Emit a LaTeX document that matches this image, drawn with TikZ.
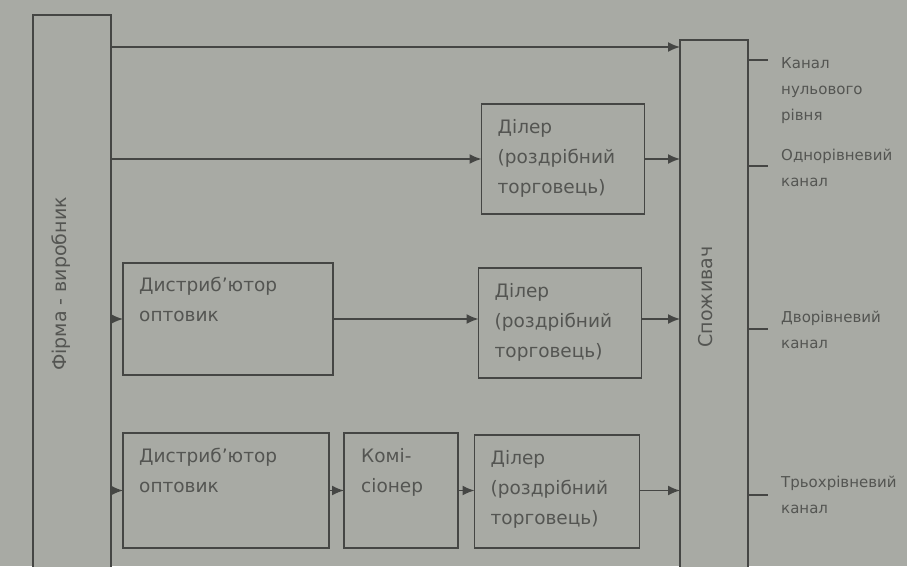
\documentclass[tikz,border=0pt]{standalone}
\usepackage{fontspec}
\setmainfont{DejaVu Sans}
\usetikzlibrary{arrows.meta}
\definecolor{bg}{HTML}{A8AAA4}
\definecolor{ln}{HTML}{454644}
\definecolor{tx}{HTML}{545552}
\begin{document}
\begin{tikzpicture}[x=1pt,y=-1pt,
  box/.style={draw=ln, line width=1.8pt, fill=bg, inner sep=0pt, outer sep=0pt},
  boxtxt/.style={text=tx, font=\fontsize{18.5}{30}\selectfont, align=left, anchor=north west, inner sep=0pt},
  vtxt/.style={text=tx, font=\fontsize{19}{20}\selectfont, rotate=90, inner sep=0pt},
  lbl/.style={text=tx, font=\fontsize{15}{26}\selectfont, align=left, anchor=west, inner sep=0pt},
  arr/.style={draw=ln, line width=1.6pt, -{Latex[length=12pt,width=10pt]}},
  tickln/.style={draw=ln, line width=1.4pt}]
\useasboundingbox[fill=bg] (0,0) rectangle (907,566);
\clip (0,0) rectangle (907,566);
% main boxes
\node[box, minimum width=78pt, minimum height=565pt] (firm) at (72,297.5) {};
\node[vtxt] (firmt) at (61,284) {Фірма - виробник};
\node[box, minimum width=68pt, minimum height=540pt] (spo) at (714,310) {};
\node[vtxt] (spot) at (706,297) {Споживач};
% row 2
\node[box, minimum width=163pt, minimum height=110pt] (dil1) at (563,159) {};
\node[boxtxt] (dil1t) at ([xshift=16pt,yshift=-15pt]dil1.north west) {Ділер\\(роздрібний\\торговець)};
% row 3
\node[box, minimum width=210pt, minimum height=112pt] (dist1) at (228,319) {};
\node[boxtxt] (dist1t) at ([xshift=16pt,yshift=-14pt]dist1.north west) {Дистриб'ютор\\оптовик};
\node[box, minimum width=163pt, minimum height=110pt] (dil2) at (560,323) {};
\node[boxtxt] (dil2t) at ([xshift=16pt,yshift=-15pt]dil2.north west) {Ділер\\(роздрібний\\торговець)};
% row 4
\node[box, minimum width=206pt, minimum height=115pt] (dist2) at (226,490.5) {};
\node[boxtxt] (dist2t) at ([xshift=16pt,yshift=-15pt]dist2.north west) {Дистриб'ютор\\оптовик};
\node[box, minimum width=114pt, minimum height=115pt] (kom) at (401,490.5) {};
\node[boxtxt] (komt) at ([xshift=17pt,yshift=-15pt]kom.north west) {Комі-\\сіонер};
\node[box, minimum width=165pt, minimum height=113pt] (dil3) at (557,491.5) {};
\node[boxtxt] (dil3t) at ([xshift=16pt,yshift=-15pt]dil3.north west) {Ділер\\(роздрібний\\торговець)};
% connectors
\coordinate (r1) at (0,47);
\draw[arr] (firm.east |- r1) -- (spo.west |- r1);
\draw[arr] (firm.east |- dil1) -- (dil1.west);
\draw[arr] (dil1.east) -- (spo.west |- dil1.east);
\draw[arr] (firm.east |- dist1) -- (dist1.west);
\draw[arr] (dist1.east) -- (dil2.west |- dist1.east);
\draw[arr] (dil2.east |- dist1.east) -- (spo.west |- dist1.east);
\draw[arr] (firm.east |- dist2) -- (dist2.west);
\draw[arr] (dist2.east) -- (kom.west);
\draw[arr] (kom.east) -- (dil3.west |- kom.east);
\draw[arr] (dil3.east |- kom.east) -- (spo.west |- kom.east);
% ticks and labels
\coordinate (t1) at (768,60);
\coordinate (t2) at (768,166);
\coordinate (t3) at (768,329);
\coordinate (t4) at (768,495);
\draw[tickln] (spo.east |- t1) -- (t1);
\draw[tickln] (spo.east |- t2) -- (t2);
\draw[tickln] (spo.east |- t3) -- (t3);
\draw[tickln] (spo.east |- t4) -- (t4);
\node[lbl] (l1) at (781,91) {Канал\\нульового\\рівня};
\node[lbl] (l2) at (781,168) {Однорівневий\\канал};
\node[lbl] (l3) at (781,330) {Дворівневий\\канал};
\node[lbl] (l4) at (781,495) {Трьохрівневий\\канал};
\end{tikzpicture}
\end{document}
